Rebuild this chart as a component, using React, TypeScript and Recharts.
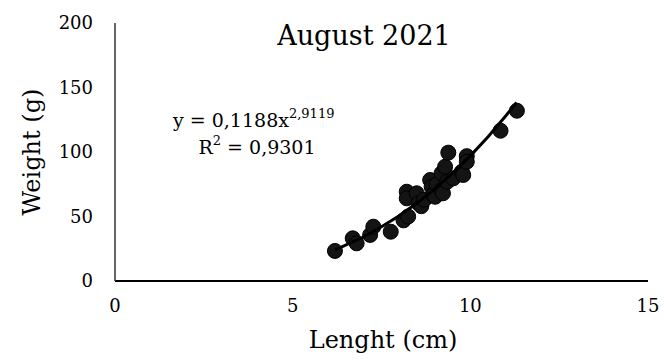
import React from 'react';
import { ScatterChart, Scatter, XAxis, YAxis, Customized } from 'recharts';

const lengths = [6.19, 6.69, 6.8, 7.18, 7.27, 7.76, 8.12, 8.25, 8.21, 8.21, 8.49, 8.54, 8.62, 8.7, 8.87, 8.91, 8.95, 9.01, 9.05, 9.19, 9.23, 9.19, 9.29, 9.38, 9.35, 9.52, 9.76, 9.8, 9.9, 9.9, 10.85, 11.31];
const weights = [23.3, 33.1, 29.2, 35.7, 42.1, 38.2, 47.0, 50.0, 69.2, 64.1, 68.0, 60.2, 58.0, 63.0, 78.3, 73.1, 66.7, 65.3, 75.0, 70.5, 68.0, 83.5, 88.6, 99.5, 77.0, 79.6, 84.7, 82.2, 96.8, 92.5, 116.5, 132.0];

const trendX = [6.2, 7, 7.5, 8, 8.5, 9, 9.5, 10, 10.5, 11, 11.3];
const trendY = [24.1, 34.3, 42.0, 50.6, 60.4, 71.4, 83.6, 97.0, 111.9, 128.1, 138.4];

const xTicks = [0, 5, 10, 15];
const yTicks = [0, 50, 100, 150, 200];

const title = 'August 2021';
const xLabel = 'Lenght (cm)';
const yLabel = 'Weight (g)';
const eqMain = 'y = 0,1188x';
const eqExp = '2,9119';
const r2Label = 'R';
const r2Value = ' = 0,9301';

const points = lengths.map((x, i) => ({ x, y: weights[i] }));
const trend = trendX.map((x, i) => ({ x, y: trendY[i] }));

const FONT = '"DejaVu Serif", serif';

const Texts = () => (
  <g fontFamily={FONT} fill="#000">
    <text x={364} y={45} fontSize={27} textAnchor="middle">{title}</text>
    <text x={383} y={348} fontSize={24} textAnchor="middle">{xLabel}</text>
    <text x={0} y={0} fontSize={24} textAnchor="middle" transform="translate(40,152) rotate(-90)">{yLabel}</text>
    <text x={173} y={127} fontSize={19}>
      {eqMain}
      <tspan fontSize={13} dy={-9}>{eqExp}</tspan>
    </text>
    <text x={257} y={154} fontSize={19} textAnchor="middle">
      {r2Label}
      <tspan fontSize={13} dy={-9}>2</tspan>
      <tspan dy={9}>{r2Value}</tspan>
    </text>
  </g>
);

const Dot = (p: any) => (
  <circle cx={p.cx} cy={p.cy} r={7.5} fill="#141414" stroke="#000" strokeWidth={1} />
);

const XTick = (p: any) => (
  <text x={p.x} y={p.y} dy="0.71em" textAnchor="middle" fontSize={18} fontFamily={FONT} fill="#000">
    {p.payload.value}
  </text>
);

const YTick = (p: any) => (
  <text x={p.x} y={p.y} dy="0.36em" textAnchor="end" fontSize={18} fontFamily={FONT} fill="#000">
    {p.payload.value}
  </text>
);

export default function App() {
  return (
    <div style={{ position: 'absolute', left: 0, top: 0, width: 664, height: 360, background: '#fff' }}>
      <ScatterChart width={664} height={360} margin={{ top: 23, right: 16, bottom: 0, left: 0 }}>
        <XAxis
          type="number"
          dataKey="x"
          domain={[0, 15]}
          ticks={xTicks}
          tickLine={false}
          tickSize={0}
          tickMargin={18}
          height={79}
          axisLine={{ stroke: '#000', strokeWidth: 1.8 }}
          tick={XTick}
          allowDataOverflow
        />
        <YAxis
          type="number"
          dataKey="y"
          domain={[0, 200]}
          ticks={yTicks}
          tickLine={false}
          tickSize={0}
          tickMargin={22}
          width={115}
          axisLine={{ stroke: '#333', strokeWidth: 1.5 }}
          tick={YTick}
          allowDataOverflow
        />
        <Scatter data={points} shape={Dot} isAnimationActive={false} />
        <Scatter
          data={trend}
          line={{ stroke: '#000', strokeWidth: 3 }}
          lineType="joint"
          shape={() => null}
          isAnimationActive={false}
        />
        <Customized component={Texts} />
      </ScatterChart>
    </div>
  );
}
